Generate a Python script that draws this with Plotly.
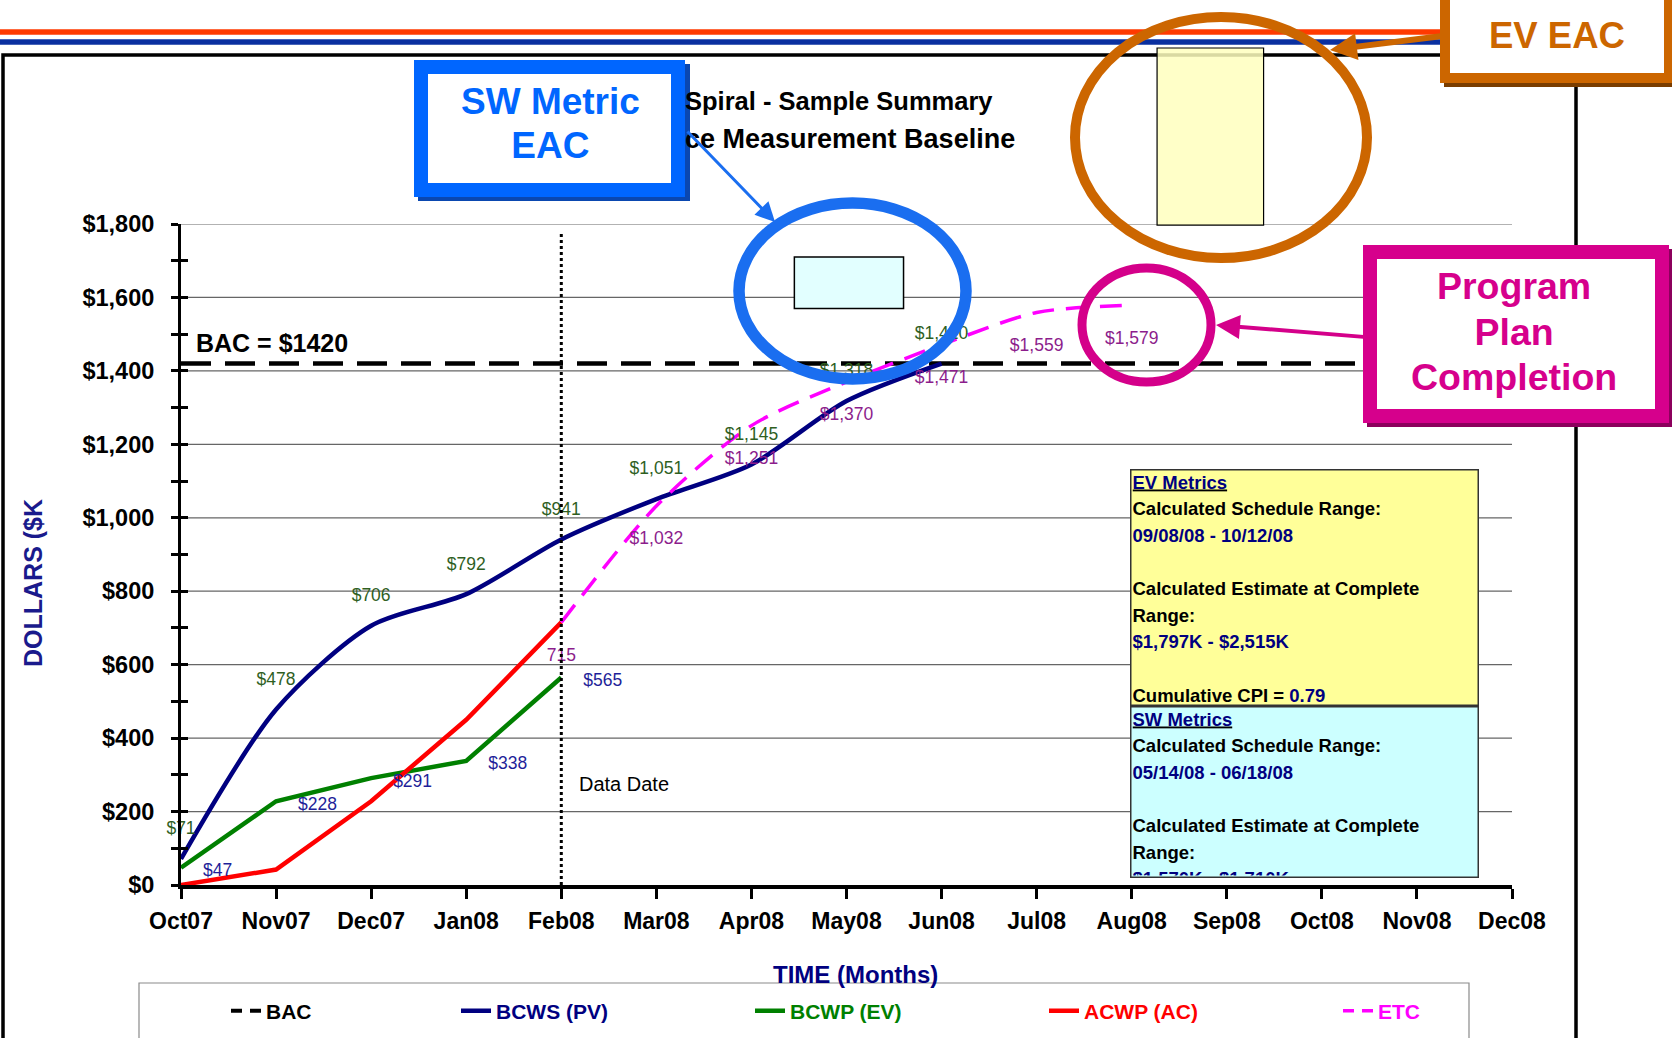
import calendar
import plotly.graph_objects as go

# ---------------- data ----------------
months = ["Oct07", "Nov07", "Dec07", "Jan08", "Feb08", "Mar08", "Apr08", "May08",
          "Jun08", "Jul08", "Aug08", "Sep08", "Oct08", "Nov08", "Dec08"]
y_tick_values = [0, 200, 400, 600, 800, 1000, 1200, 1400, 1600, 1800]

bac_value = 1420

bcws_months = ["Oct07", "Nov07", "Dec07", "Jan08", "Feb08", "Mar08", "Apr08", "May08", "Jun08"]
bcws_values = [71, 478, 706, 792, 941, 1051, 1145, 1318, 1420]

bcwp_months = ["Oct07", "Nov07", "Dec07", "Jan08", "Feb08"]
bcwp_values = [47, 228, 291, 338, 565]

acwp_months = ["Oct07", "Nov07", "Dec07", "Jan08", "Feb08"]
acwp_values = [0, 42, 228, 450, 715]

etc_months = ["Feb08", "Mar08", "Apr08", "May08", "Jun08", "Jul08", "Aug08"]
etc_values = [715, 1032, 1251, 1370, 1471, 1559, 1579]
etc_labels = ["715", "$1,032", "$1,251", "$1,370", "$1,471", "$1,559", "$1,579"]

data_date_month = "Feb08"
data_date_top = 1775

ev_schedule = ["09/08/08", "10/12/08"]
ev_eac_range = [1797, 2515]
sw_schedule = ["05/14/08", "06/18/08"]
sw_eac_range = [1570, 1710]
cumulative_cpi = 0.79

# ---------------- layout geometry ----------------
W, H = 1672, 1038
ML, MR, MT, MB = 181, 160, 224, 153
PW = W - ML - MR
PH = H - MT - MB
Y_MAX = 1800
X_MAX = len(months) - 1
UPX = X_MAX / PW          # x units per pixel
UPY = Y_MAX / PH          # y units per pixel

FONT = "Liberation Sans, Arial, Helvetica, sans-serif"
NAVY = "#000080"
LBL_GREEN = "#2f5f1f"
LBL_NAVY = "#1f1f99"
LBL_PURPLE = "#8c1d8c"


def xi(m):
    return months.index(m)


def date_pos(s):
    m, d, y = (int(v) for v in s.split("/"))
    y += 2000
    days = calendar.monthrange(y, m)[1]
    return (y - 2007) * 12 + (m - 11) + d / days


def pxx(x):
    return (x - ML) / PW


def pyy(y):
    return (H - MB - y) / PH


def money(v):
    return "${:,}".format(v)


fig = go.Figure()

# ---- main series ----
fig.add_trace(go.Scatter(
    x=[0, X_MAX], y=[bac_value, bac_value], mode="lines", name="BAC",
    line=dict(color="black", width=4.5, dash="30px,14px"),
    showlegend=False, hoverinfo="skip"))

fig.add_trace(go.Scatter(
    x=[xi(m) for m in bcws_months], y=bcws_values, mode="lines",
    name="<span style='color:#000080'>BCWS (PV)</span>",
    line=dict(color=NAVY, width=4.5, shape="spline", smoothing=0.8)))

fig.add_trace(go.Scatter(
    x=[xi(m) for m in bcwp_months], y=bcwp_values, mode="lines",
    name="<span style='color:#008000'>BCWP (EV)</span>",
    line=dict(color="#008000", width=4.5)))

fig.add_trace(go.Scatter(
    x=[xi(m) for m in acwp_months], y=acwp_values, mode="lines",
    name="<span style='color:#ff0000'>ACWP (AC)</span>",
    line=dict(color="#ff0000", width=4.5)))

fig.add_trace(go.Scatter(
    x=[xi(m) for m in etc_months], y=etc_values, mode="lines",
    name="ETC", showlegend=False,
    line=dict(color="#ff00ff", width=3.5, dash="22px,12px", shape="spline", smoothing=0.8)))

# legend entries for the dashed series (shorter dash pattern so the key shows "- -")
fig.add_trace(go.Scatter(
    x=[None], y=[None], mode="lines", name="<span style='color:#ff00ff'>ETC</span>",
    line=dict(color="#ff00ff", width=3.5, dash="11px,8px"), hoverinfo="skip"))
fig.add_trace(go.Scatter(
    x=[None], y=[None], mode="lines", name="BAC", legend="legend2",
    line=dict(color="black", width=4, dash="11px,8px"), hoverinfo="skip"))

# ---- data labels ----
fig.add_trace(go.Scatter(
    x=[xi(m) for m in bcws_months], y=[v + 29 * UPY for v in bcws_values],
    mode="text", text=[money(v) for v in bcws_values], textposition="middle center",
    textfont=dict(family=FONT, size=17.5, color=LBL_GREEN),
    showlegend=False, hoverinfo="skip", cliponaxis=False))

fig.add_trace(go.Scatter(
    x=[xi(m) + 22 * UPX for m in bcwp_months], y=[v - 4 * UPY for v in bcwp_values],
    mode="text", text=[money(v) for v in bcwp_values], textposition="middle right",
    textfont=dict(family=FONT, size=17.5, color=LBL_NAVY),
    showlegend=False, hoverinfo="skip", cliponaxis=False))

fig.add_trace(go.Scatter(
    x=[xi(m) for m in etc_months], y=[v - 34 * UPY for v in etc_values],
    mode="text", text=etc_labels, textposition="middle center",
    textfont=dict(family=FONT, size=17.5, color=LBL_PURPLE),
    showlegend=False, hoverinfo="skip", cliponaxis=False))

# ---- data date line (on overlay axis that carries the inside ticks) ----
fig.add_trace(go.Scatter(
    x=[xi(data_date_month), xi(data_date_month)], y=[0, data_date_top],
    mode="lines", line=dict(color="black", width=3, dash="dot"),
    yaxis="y2", showlegend=False, hoverinfo="skip"))

# ---------------- shapes ----------------
shapes = []
# outer frame
shapes.append(dict(type="rect", xref="paper", yref="paper", layer="below",
                   x0=pxx(3), x1=pxx(1576), y0=pyy(55), y1=pyy(1060),
                   line=dict(color="black", width=3.5)))
# header stripes
shapes.append(dict(type="line", xref="paper", yref="paper", x0=pxx(0), x1=pxx(1440),
                   y0=pyy(32), y1=pyy(32), line=dict(color="#ff3a00", width=5.5)))
shapes.append(dict(type="line", xref="paper", yref="paper", x0=pxx(0), x1=pxx(1440),
                   y0=pyy(42), y1=pyy(42), line=dict(color="#0a30a0", width=5.5)))
# legend frame
shapes.append(dict(type="rect", xref="paper", yref="paper", layer="below",
                   x0=pxx(139), x1=pxx(1469), y0=pyy(983), y1=pyy(1070),
                   line=dict(color="#8a8a8a", width=1.2)))
# gridlines
for v in y_tick_values[1:]:
    shapes.append(dict(type="line", xref="paper", yref="y", layer="below",
                       x0=0, x1=1, y0=v, y1=v, line=dict(color="#666666", width=1.2)))
# EV EAC range box (clipped at the top of the slide area)
shapes.append(dict(type="rect", xref="x", yref="paper", layer="above",
                   x0=date_pos(ev_schedule[0]), x1=date_pos(ev_schedule[1]),
                   y0=ev_eac_range[0] / Y_MAX, y1=min(ev_eac_range[1] / Y_MAX, pyy(48)),
                   fillcolor="rgba(255,255,190,0.85)", line=dict(color="black", width=1.2)))
# SW EAC range box
shapes.append(dict(type="rect", xref="x", yref="y", layer="above",
                   x0=date_pos(sw_schedule[0]), x1=date_pos(sw_schedule[1]),
                   y0=sw_eac_range[0], y1=sw_eac_range[1],
                   fillcolor="#e2ffff", line=dict(color="black", width=1.5)))
# callout box shadows
shapes.append(dict(type="rect", xref="paper", yref="paper", layer="above",
                   x0=pxx(418), x1=pxx(690), y0=pyy(64), y1=pyy(201),
                   fillcolor="#0a47b0", line=dict(width=0)))
shapes.append(dict(type="rect", xref="paper", yref="paper", layer="above",
                   x0=pxx(1367), x1=pxx(1673), y0=pyy(249), y1=pyy(427),
                   fillcolor="#8c005c", line=dict(width=0)))
shapes.append(dict(type="rect", xref="paper", yref="paper", layer="above",
                   x0=pxx(1444), x1=pxx(1680), y0=pyy(-20), y1=pyy(87),
                   fillcolor="#7a3d00", line=dict(width=0)))
# ellipses
shapes.append(dict(type="circle", xref="paper", yref="paper", layer="above",
                   x0=pxx(739), x1=pxx(966), y0=pyy(203), y1=pyy(379),
                   line=dict(color="#1a6ef0", width=11.5)))
shapes.append(dict(type="circle", xref="paper", yref="paper", layer="above",
                   x0=pxx(1075), x1=pxx(1367), y0=pyy(17), y1=pyy(258),
                   line=dict(color="#cc6600", width=10)))
shapes.append(dict(type="circle", xref="paper", yref="paper", layer="above",
                   x0=pxx(1082), x1=pxx(1211), y0=pyy(268), y1=pyy(382),
                   line=dict(color="#d4008a", width=9)))

# ---------------- annotations ----------------
ann = []
# title (partly hidden by the callout)
ann.append(dict(text="<b>Spiral - Sample Summary</b>", xref="paper", yref="paper",
                x=pxx(683), y=pyy(101), xanchor="left", yanchor="middle", showarrow=False,
                font=dict(family=FONT, size=25.5, color="black")))
ann.append(dict(text="<b>ce Measurement Baseline</b>", xref="paper", yref="paper",
                x=pxx(683), y=pyy(139), xanchor="left", yanchor="middle", showarrow=False,
                font=dict(family=FONT, size=27, color="black")))

# arrows
ann.append(dict(text="", xref="paper", yref="paper", x=pxx(775), y=pyy(222),
                ax=686 - 775, ay=130 - 222, showarrow=True, arrowhead=2, arrowsize=1.3,
                arrowwidth=3, arrowcolor="#1a6ef0", standoff=0))
ann.append(dict(text="", xref="paper", yref="paper", x=pxx(1216), y=pyy(325),
                ax=1365 - 1216, ay=337 - 325, showarrow=True, arrowhead=2, arrowsize=1.2,
                arrowwidth=4, arrowcolor="#d4008a", standoff=0))
ann.append(dict(text="", xref="paper", yref="paper", x=pxx(1330), y=pyy(50),
                ax=1442 - 1330, ay=36 - 50, showarrow=True, arrowhead=2, arrowsize=0.9,
                arrowwidth=6, arrowcolor="#cc6600", standoff=0))


def callout(cx, cy, w, h, bw, color, text, tx, ty, base, size):
    ann.append(dict(text=" ", xref="paper", yref="paper", x=pxx(cx), y=pyy(cy),
                    xanchor="center", yanchor="middle", width=w, height=h, showarrow=False,
                    bgcolor="white", bordercolor=color, borderwidth=bw, borderpad=0,
                    font=dict(family=FONT, size=10, color=color)))
    lines = "<br>".join("<span style='font-size:%spx'><b>%s</b></span>" % (size, t)
                        for t in text)
    ann.append(dict(text=lines, xref="paper", yref="paper", x=pxx(tx), y=pyy(ty),
                    xanchor="center", yanchor="middle", showarrow=False,
                    font=dict(family=FONT, size=base, color=color)))


callout(549.5, 128.5, 243, 109, 14, "#0066ff", ["SW Metric", "EAC"], 550, 123, 33.6, 37)
callout(1516, 334, 278, 150, 14, "#d6008c", ["Program", "Plan", "Completion"], 1514, 331, 35, 37.5)
callout(1557, 35, 214, 76, 10, "#cc6600", ["EV EAC"], 1557, 35, 36.5, 36.5)

# metrics boxes
S = "<span style='font-size:18.5px'>"
E = "</span>"
ev_text = (
    S + "<b><u><span style='color:#000080'>EV Metrics</span></u></b>" + E + "<br>"
    + S + "<b>Calculated Schedule Range:</b>" + E + "<br>"
    + S + "<b><span style='color:#000080'>" + ev_schedule[0] + " - " + ev_schedule[1] + "</span></b>" + E + "<br>"
    + " <br>"
    + S + "<b>Calculated Estimate at Complete</b>" + E + "<br>"
    + S + "<b>Range:</b>" + E + "<br>"
    + S + "<b><span style='color:#000080'>" + money(ev_eac_range[0]) + "K - " + money(ev_eac_range[1]) + "K</span></b>" + E + "<br>"
    + " <br>"
    + S + "<b>Cumulative CPI = <span style='color:#000080'>" + "{:.2f}".format(cumulative_cpi) + "</span></b>" + E
)
sw_text = (
    S + "<b><u><span style='color:#000080'>SW Metrics</span></u></b>" + E + "<br>"
    + S + "<b>Calculated Schedule Range:</b>" + E + "<br>"
    + S + "<b><span style='color:#000080'>" + sw_schedule[0] + " - " + sw_schedule[1] + "</span></b>" + E + "<br>"
    + " <br>"
    + S + "<b>Calculated Estimate at Complete</b>" + E + "<br>"
    + S + "<b>Range:</b>" + E + "<br>"
    + S + "<b><span style='color:#000080'>" + money(sw_eac_range[0]) + "K - " + money(sw_eac_range[1]) + "K</span></b>" + E
)
ann.append(dict(text=ev_text, xref="paper", yref="paper", x=pxx(1130), y=pyy(469),
                xanchor="left", yanchor="top", width=344, height=232, align="left",
                valign="top", showarrow=False, bgcolor="#ffff99", bordercolor="#333333",
                borderwidth=1.5, borderpad=1, font=dict(family=FONT, size=20.5, color="black")))
ann.append(dict(text=sw_text, xref="paper", yref="paper", x=pxx(1130), y=pyy(706),
                xanchor="left", yanchor="top", width=344, height=167, align="left",
                valign="top", showarrow=False, bgcolor="#ccffff", bordercolor="#333333",
                borderwidth=1.5, borderpad=1, font=dict(family=FONT, size=20.5, color="black")))

# text labels
ann.append(dict(text="<b>BAC = $1420</b>", xref="x", yref="y", x=0, y=bac_value,
                xshift=13, yshift=21, xanchor="left", yanchor="middle", showarrow=False,
                font=dict(family=FONT, size=25, color="black")))
ann.append(dict(text="Data Date", xref="x", yref="paper", x=xi(data_date_month), y=pyy(784),
                xshift=16, xanchor="left", yanchor="middle", showarrow=False,
                font=dict(family=FONT, size=20, color="black")))
ann.append(dict(text="<b>TIME (Months)</b>", xref="paper", yref="paper", x=pxx(856), y=pyy(974),
                xanchor="center", yanchor="middle", showarrow=False,
                font=dict(family=FONT, size=24, color=NAVY)))
ann.append(dict(text="<b>DOLLARS ($K</b>", xref="paper", yref="paper", x=pxx(33), y=pyy(583),
                xanchor="center", yanchor="middle", textangle=-90, showarrow=False,
                font=dict(family=FONT, size=25, color="#1a1a8c")))

fig.update_layout(
    width=W, height=H, autosize=False,
    margin=dict(l=ML, r=MR, t=MT, b=MB, pad=0, autoexpand=False),
    paper_bgcolor="white", plot_bgcolor="white",
    font=dict(family=FONT, color="black"),
    showlegend=True,
    xaxis=dict(range=[0, X_MAX], tickmode="array", tickvals=list(range(len(months))),
               ticktext=months, ticks="outside", ticklen=10, tickwidth=2.5, tickcolor="black",
               showline=True, linecolor="black", linewidth=4, showgrid=False, zeroline=False,
               tickfont=dict(family=FONT, size=23, color="black", weight="bold"),
               ticklabelstandoff=2, fixedrange=True, automargin=False),
    yaxis=dict(range=[0, Y_MAX], tickmode="array", tickvals=y_tick_values,
               ticktext=[money(v) for v in y_tick_values],
               ticks="outside", ticklen=7, tickwidth=2.5, tickcolor="black",
               minor=dict(dtick=100, tick0=0, ticks="outside", ticklen=7, tickwidth=2.5,
                          tickcolor="black", showgrid=False),
               showline=True, linecolor="black", linewidth=3, showgrid=False, zeroline=False,
               tickfont=dict(family=FONT, size=23.5, color="black", weight="bold"),
               ticklabelstandoff=12, fixedrange=True, automargin=False),
    yaxis2=dict(range=[0, Y_MAX], overlaying="y", side="left", anchor="x",
                tickmode="linear", tick0=0, dtick=100, ticks="inside", ticklen=7,
                tickwidth=2.5, tickcolor="black", showticklabels=False, showgrid=False,
                showline=False, zeroline=False, fixedrange=True),
    legend=dict(orientation="h", x=pxx(456), y=pyy(1011), xanchor="left", yanchor="middle",
                entrywidth=249, entrywidthmode="pixels", bgcolor="rgba(0,0,0,0)",
                borderwidth=0, font=dict(family=FONT, size=21, weight="bold")),
    legend2=dict(orientation="h", x=pxx(226), y=pyy(1011), xanchor="left", yanchor="middle",
                 bgcolor="rgba(0,0,0,0)", borderwidth=0,
                 font=dict(family=FONT, size=21, color="black", weight="bold")),
    shapes=shapes,
    annotations=ann,
)

fig.write_html("out.html")
